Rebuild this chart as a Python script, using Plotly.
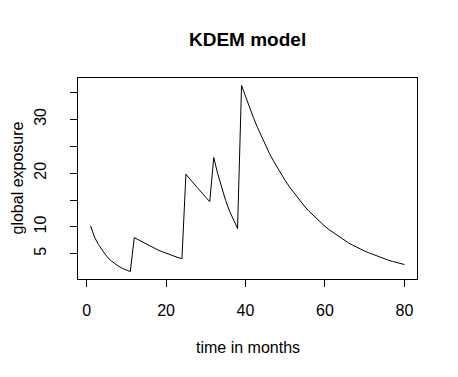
import plotly.graph_objects as go

# months 1..80 and the exposure
months = list(range(1, 81))
exposure = [
    10.2, 8.1, 6.7, 5.6, 4.6, 3.8, 3.2, 2.7, 2.3, 2.0, 1.7,
    8.0, 7.6, 7.2, 6.8, 6.4, 6.1, 5.7, 5.4, 5.1, 4.8, 4.6, 4.3, 4.1,
    19.8, 18.9, 18.0, 17.1, 16.2, 15.5, 14.7,
    22.9, 19.9, 17.2, 14.9, 12.9, 11.2, 9.7,
    36.3, 34.2, 32.2, 30.3, 28.5, 26.8, 25.2, 23.7, 22.3, 21.0, 19.8,
    18.6, 17.5, 16.5, 15.5, 14.6, 13.7, 12.9, 12.2, 11.4, 10.8, 10.1,
    9.5, 9.0, 8.4, 7.9, 7.5, 7.0, 6.6, 6.2, 5.9, 5.5, 5.2,
    4.9, 4.6, 4.3, 4.1, 3.8, 3.6, 3.4, 3.2, 3.0,
]
x_ticks = [0, 20, 40, 60, 80]
y_ticks = [5, 10, 15, 20, 25, 30, 35]
y_labels = ['5', '10', '', '20', '', '30', '']

FONT = 'Liberation Sans, Arial, sans-serif'

# R style 4% padding around the data
def padded(vals):
    lo, hi = min(vals), max(vals)
    d = (hi - lo) * 0.04
    return [lo - d, hi + d]

fig = go.Figure()
fig.add_trace(go.Scatter(x=months, y=exposure, mode='lines',
                         line=dict(color='black', width=1),
                         showlegend=False, hoverinfo='skip'))

axis_common = dict(showline=True, mirror=True, linecolor='black', linewidth=1,
                   ticks='outside', ticklen=7, tickwidth=1, tickcolor='black',
                   showgrid=False, zeroline=False,
                   tickfont=dict(family=FONT, size=16, color='black'))

fig.update_xaxes(range=padded(months), tickvals=x_ticks, ticklabelstandoff=10,
                 **axis_common)
fig.update_yaxes(range=padded(exposure), tickvals=y_ticks, ticktext=y_labels,
                 tickangle=-90, ticklabelstandoff=18, **axis_common)

fig.add_annotation(text='<b>KDEM model</b>', xref='paper', yref='paper',
                   x=0.5, y=1, yshift=39, yanchor='middle', showarrow=False,
                   font=dict(family=FONT, size=19, color='black'))
fig.add_annotation(text='time in months', xref='paper', yref='paper',
                   x=0.5, y=0, yshift=-68, yanchor='middle', showarrow=False,
                   font=dict(family=FONT, size=16, color='black'))
# keep the rotated label inside the figure's left edge
fig.add_annotation(text='global exposure', xref='paper', yref='paper',
                   x=0, y=0.5, xshift=-61, xanchor='center', yanchor='middle',
                   textangle=-90, showarrow=False,
                   font=dict(family=FONT, size=16, color='black'))

# page body has an 8px margin, so pull the plot area up/left by 8px
fig.update_layout(width=458, height=377,
                  margin=dict(l=70, r=49, t=70, b=106),
                  paper_bgcolor='white', plot_bgcolor='white')

fig.write_html("out.html")
